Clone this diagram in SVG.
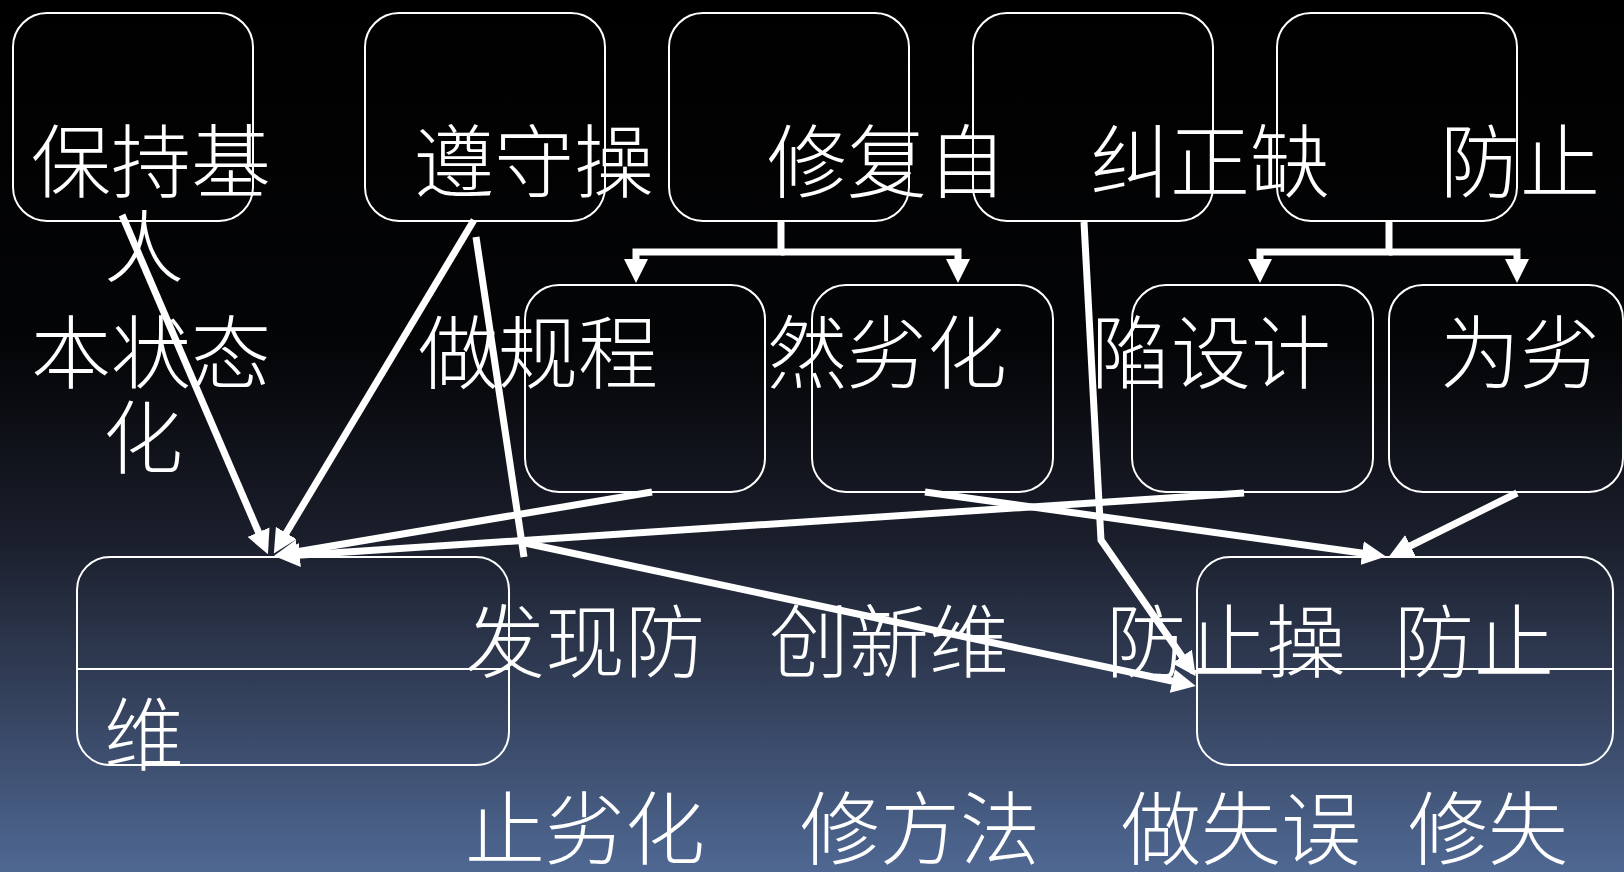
<svg xmlns="http://www.w3.org/2000/svg" width="1624" height="872" viewBox="0 0 1624 872">
<defs>
<linearGradient id="bg" x1="0" y1="0" x2="0" y2="1">
<stop offset="0" stop-color="#000000"/>
<stop offset="0.4" stop-color="#040507"/>
<stop offset="0.62" stop-color="#1b1f2c"/>
<stop offset="0.8" stop-color="#34415c"/>
<stop offset="1" stop-color="#4f6893"/>
</linearGradient>
<marker id="ah" viewBox="0 0 24 24" refX="14" refY="12" markerWidth="24" markerHeight="24" markerUnits="userSpaceOnUse" orient="auto">
<path d="M0,0 L24,12 L0,24 z" fill="#ffffff"/>
</marker>
<style>
.box{fill:none;stroke:#ffffff;stroke-width:2}
.div{stroke:#ffffff;stroke-width:2}
.t{font-family:"Noto Sans CJK SC","Noto Sans CJK JP",sans-serif;font-size:80px;font-weight:300;fill:#ffffff}
.c{fill:none;stroke:#ffffff;stroke-width:7;stroke-linejoin:miter}
.a{marker-end:url(#ah)}
</style>
</defs>
<rect x="0" y="0" width="1624" height="872" fill="url(#bg)"/>

<g id="n-top1"><rect class="box" x="13" y="13" width="240" height="208" rx="34"/></g>
<g id="n-top2"><rect class="box" x="365" y="13" width="240" height="208" rx="34"/></g>
<g id="n-top3"><rect class="box" x="669" y="13" width="240" height="208" rx="34"/></g>
<g id="n-top4"><rect class="box" x="973" y="13" width="240" height="208" rx="34"/></g>
<g id="n-top5"><rect class="box" x="1277" y="13" width="240" height="208" rx="34"/></g>

<g id="n-mid1"><rect class="box" x="525" y="285" width="240" height="207" rx="34"/></g>
<g id="n-mid2"><rect class="box" x="812" y="285" width="241" height="207" rx="34"/></g>
<g id="n-mid3"><rect class="box" x="1132" y="285" width="241" height="207" rx="34"/></g>
<g id="n-mid4"><rect class="box" x="1389" y="285" width="234" height="207" rx="34"/></g>

<g id="n-bot1"><rect class="box" x="77" y="557" width="432" height="208" rx="33"/><line class="div" x1="77" y1="669" x2="509" y2="669"/></g>
<g id="n-bot2"><rect class="box" x="1197" y="557" width="416" height="208" rx="33"/><line class="div" x1="1197" y1="669" x2="1613" y2="669"/></g>

<g id="connectors">
<path class="c a" d="M781,221 V252 H636 V273"/>
<path class="c a" d="M781,252 H958 V273"/>
<path class="c a" d="M1389,221 V252 H1260 V273"/>
<path class="c a" d="M1389,252 H1517 V273"/>
<path class="c a" d="M122,215 L264,545"/>
<path class="c a" d="M474,220 L279,545"/>
<path class="c a" d="M652,492 L284,554"/>
<path class="c a" d="M1244,493 L286,556"/>
<path class="c a" d="M925,492 L1376,555"/>
<path class="c a" d="M1517,493 L1398,552"/>
<path class="c" d="M476,237 L524,557"/>
<path class="c a" d="M520,542 L1186,684"/>
<path class="c a" d="M1084,222 L1101,540 L1190,668"/>
</g>

<g id="labels">
<text class="t" x="31" y="191">保持基</text>
<text class="t" x="414" y="191">遵守操</text>
<text class="t" x="767" y="191">修复自</text>
<text class="t" x="1090" y="191">纠正缺</text>
<text class="t" x="1440" y="191">防止</text>
<text class="t" x="104" y="276">人</text>
<text class="t" x="31" y="382">本状态</text>
<text class="t" x="418" y="382">做规程</text>
<text class="t" x="767" y="382">然劣化</text>
<text class="t" x="1091" y="382">陷设计</text>
<text class="t" x="1440" y="382">为劣</text>
<text class="t" x="103" y="467">化</text>
<text class="t" x="104" y="764">维</text>
<text class="t" x="465" y="671">发现防</text>
<text class="t" x="769" y="671">创新维</text>
<text class="t" x="1106" y="671">防止操</text>
<text class="t" x="1394" y="671">防止</text>
<text class="t" x="465" y="858">止劣化</text>
<text class="t" x="800" y="858">修方法</text>
<text class="t" x="1121" y="858">做失误</text>
<text class="t" x="1408" y="858">修失</text>
</g>
</svg>
